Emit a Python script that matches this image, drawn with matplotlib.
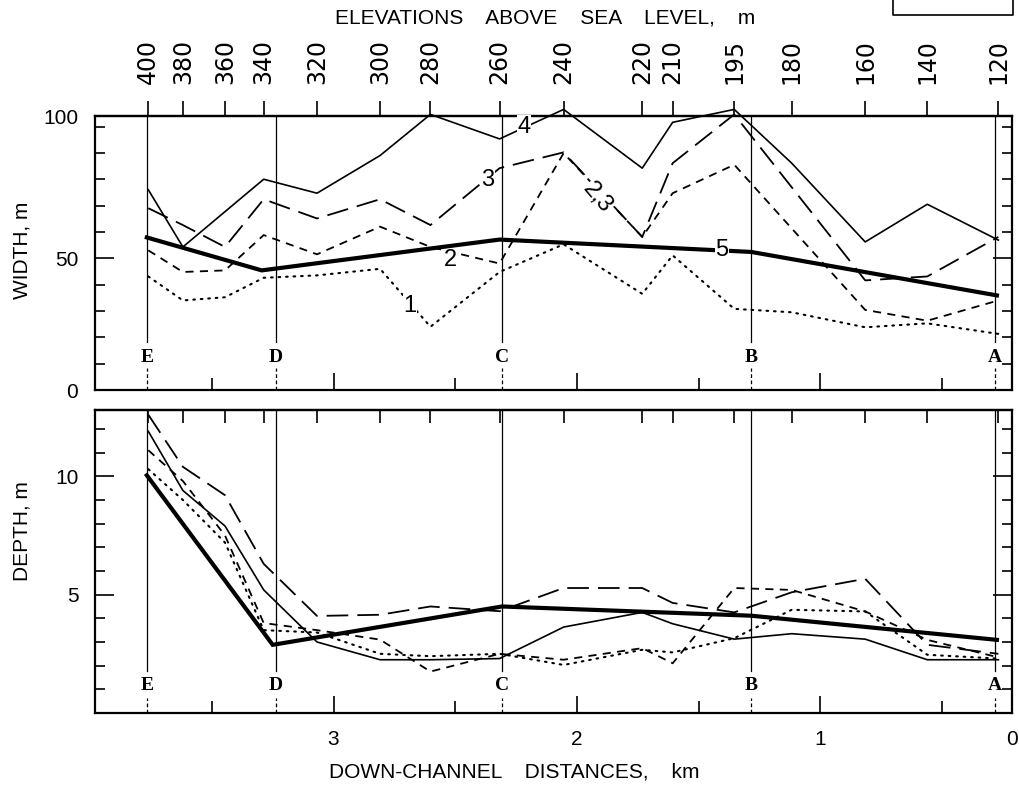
import numpy as np
import matplotlib
matplotlib.use("Agg")
import matplotlib.pyplot as plt
from matplotlib.lines import Line2D

plt.rcParams['font.family'] = ['Liberation Sans', 'DejaVu Sans']

nan = np.nan

# ---- data -------------------------------------------------------------
elevations = [400, 380, 360, 340, 320, 300, 280, 260, 240, 220, 210, 195, 180, 160, 140, 120]
elev_km = [3.761, 3.619, 3.446, 3.287, 3.068, 2.809, 2.602, 2.318, 2.055,
           1.732, 1.607, 1.354, 1.118, 0.816, 0.561, 0.269]

station_names = ['E', 'D', 'C', 'B', 'A']
station_km = [3.767, 3.236, 2.308, 1.284, 0.282]

# widths (m)
width_1 = [43.1, 34.0, 35.2, 42.6, 43.5, 46.0, 24.0, 44.8, 55.3, 36.5, 51.1, 30.8, 29.5, 23.8, 25.3, 21.3]
width_2 = [53.0, 44.8, 45.4, 58.8, 51.5, 62.0, 54.3, 48.0, 89.9, 58.1, 74.7, 85.5, nan, 30.4, 26.3, 34.0]
width_3 = [69.0, 62.6, 54.3, 72.4, 65.1, 72.4, 62.6, 84.2, 90.2, 58.1, 86.1, 104.6, nan, 41.6, 43.1, 58.1]
width_4 = [76.0, 54.3, nan, 80.0, 74.7, 89.0, 104.6, 95.3, 106.5, 84.2, 101.6, 106.5, 86.1, 56.2, 70.5, 56.9]
width_5_km = [3.767, 3.295, 2.318, 1.284, 0.275]
width_5 = [57.9, 45.4, 57.1, 52.4, 35.9]

# depths (m)
depth_1 = [10.3, 9.0, 7.2, 3.5, 3.4, 2.5, 2.4, 2.5, 2.03, 2.67, 2.56, 3.16, 4.36, 4.29, 2.46, 2.3]
depth_2 = [11.1, 9.8, 7.5, 3.8, 3.5, 3.1, 1.75, 2.5, 2.25, 2.74, 2.1, 5.28, 5.2, 4.29, 3.09, 2.35]
depth_3 = [12.6, 10.4, 9.2, 6.3, 4.1, 4.15, 4.5, 4.3, 5.28, 5.28, 4.65, 4.25, 5.1, 5.67, 2.88, 2.5]
depth_4 = [11.9, 9.4, 7.9, 5.2, 3.0, 2.25, 2.25, 2.3, 3.63, 4.25, 3.77, 3.12, 3.35, 3.12, 2.25, 2.25]
depth_5_km = [3.767, 3.25, 2.308, 1.284, 0.275]
depth_5 = [10.04, 2.88, 4.5, 4.11, 3.09]

km_major = [3, 2, 1]
km_minor = [3.5, 2.5, 1.5, 0.5]

# ---- styles -----------------------------------------------------------
styles = {
    1: dict(color='black', lw=1.5, dashes=(0.8, 2.8), dash_capstyle='round'),
    2: dict(color='black', lw=1.3, dashes=(4.5, 3.5)),
    3: dict(color='black', lw=1.3, dashes=(12, 5)),
    4: dict(color='black', lw=1.2, linestyle='-'),
    5: dict(color='black', lw=3.0, linestyle='-', solid_joinstyle='miter'),
}

XL = (3.980, 0.213)

fig = plt.figure(figsize=(10.2, 7.85), dpi=100)
W, H = 1020.0, 785.0
ax1 = fig.add_axes([95 / W, 1 - 390 / H, 917 / W, 274 / H])
ax2 = fig.add_axes([95 / W, 1 - 713 / H, 917 / W, 303 / H])


def draw(ax, xs, ys, st):
    xs = np.asarray(xs, float)
    ys = np.asarray(ys, float)
    m = ~np.isnan(ys)
    ax.plot(xs[m], ys[m], clip_on=False, **styles[st])


for ax in (ax1, ax2):
    ax.set_xlim(*XL)
    for s in ax.spines.values():
        s.set_linewidth(1.6)

# upper panel
ax1.set_ylim(0, 104)
draw(ax1, elev_km, width_1, 1)
draw(ax1, elev_km, width_2, 2)
draw(ax1, elev_km, width_3, 3)
draw(ax1, elev_km, width_4, 4)
draw(ax1, width_5_km, width_5, 5)

# lower panel
ax2.set_ylim(0, 12.8)
draw(ax2, elev_km, depth_1, 1)
draw(ax2, elev_km, depth_2, 2)
draw(ax2, elev_km, depth_3, 3)
draw(ax2, elev_km, depth_4, 4)
draw(ax2, depth_5_km, depth_5, 5)

# station lines + letters
serif = ['Liberation Serif', 'DejaVu Serif']
for ax, lab_y, solid_from, dash_to in ((ax1, 0.12, 0.175, 0.08), (ax2, 0.092, 0.14, 0.05)):
    for name, k in zip(station_names, station_km):
        ax.axvline(k, ymin=solid_from, ymax=1, color='black', lw=0.9)
        ax.axvline(k, ymin=0, ymax=dash_to, color='black', lw=0.9, dashes=(3, 2))
        ax.text(k, lab_y, name, transform=ax.get_xaxis_transform(), ha='center', va='center',
                fontsize=14, fontweight='bold', family=serif)

# inline curve labels (upper panel)
lab_kw = dict(ha='center', va='center', fontsize=17,
              bbox=dict(fc='white', ec='none', pad=0.5))
ax1.text(2.217, 100, '4', **lab_kw)
ax1.text(2.365, 79.8, '3', **lab_kw)
ax1.text(2.521, 49.2, '2', **lab_kw)
ax1.text(2.686, 32, '1', **lab_kw)
ax1.text(1.917, 72.9, '2,3', rotation=-50, **lab_kw)
ax1.text(1.404, 53, '5', **lab_kw)

# ---- ticks ------------------------------------------------------------
ax1.set_yticks([0, 50, 104], ['0', '50', '100'])
ax1.set_yticks(np.arange(10, 101, 10), minor=True)
ax2.set_yticks([5, 10], ['5', '10'])
ax2.set_yticks(np.arange(1, 13, 1), minor=True)

for ax in (ax1, ax2):
    ax.set_xticks(km_major + [XL[1]], ['3', '2', '1', '0'])
    ax.set_xticks(km_minor, minor=True)
    ax.tick_params(axis='both', which='both', direction='in', width=1.2, labelsize=15,
                   top=False, right=True)
    ax.tick_params(axis='y', which='major', length=14, pad=12)
    ax.tick_params(axis='y', which='minor', length=7)
    ax.tick_params(axis='x', which='major', length=12, pad=12)
    ax.tick_params(axis='x', which='minor', length=9)

ax1.tick_params(axis='x', which='both', labelbottom=False)

# elevation axis on top of the upper panel
sec1 = ax1.secondary_xaxis('top')
sec1.set_xticks(elev_km, [str(e) for e in elevations])
sec1.tick_params(direction='out', length=11, width=1.2, labelsize=17, labelrotation=90, pad=12)
for t in sec1.get_xticklabels():
    t.set_family(['DejaVu Sans'])
sec1.spines['top'].set_linewidth(1.6)

sec2 = ax2.secondary_xaxis('top')
sec2.set_xticks(elev_km, [''] * len(elev_km))
sec2.tick_params(direction='in', length=9, width=1.2)
sec2.spines['top'].set_linewidth(1.6)

# ---- texts ------------------------------------------------------------
fig.text(545 / W, 1 - 18 / H, 'ELEVATIONS    ABOVE    SEA    LEVEL,    m',
         ha='center', va='center', fontsize=15)
fig.text(514 / W, 1 - 772 / H, 'DOWN-CHANNEL    DISTANCES,    km',
         ha='center', va='center', fontsize=15)
fig.text(22 / W, 1 - 250 / H, 'WIDTH, m', rotation=90, ha='center', va='center', fontsize=15)
fig.text(22 / W, 1 - 531 / H, 'DEPTH, m', rotation=90, ha='center', va='center', fontsize=15)

# partial box at top right
fig.add_artist(Line2D([893 / W, 893 / W, 1013 / W, 1013 / W],
                      [1.0, 1 - 15 / H, 1 - 15 / H, 1.0],
                      transform=fig.transFigure, color='black', lw=1.2))

fig.savefig('out.png', dpi=100)
